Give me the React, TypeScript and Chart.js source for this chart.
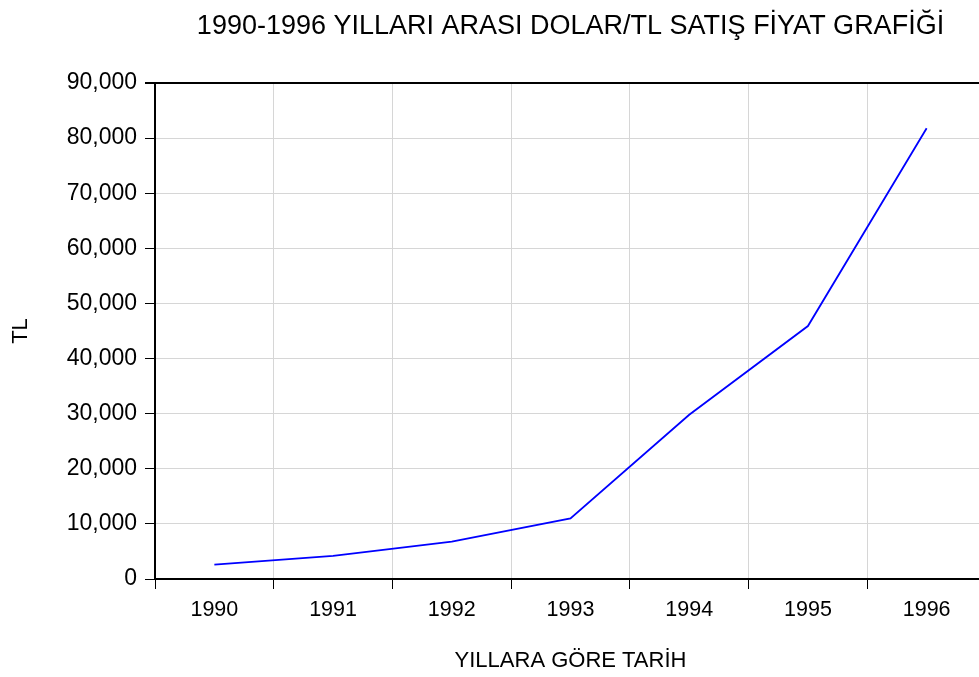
import { useEffect, useRef } from "react";
import { Chart, registerables } from "chart.js";

Chart.register(...registerables);

const years = ["1990", "1991", "1992", "1993", "1994", "1995", "1996"];
const rates = [2600, 4200, 6800, 11000, 29800, 45900, 81800];
const yTicks = [0, 10000, 20000, 30000, 40000, 50000, 60000, 70000, 80000, 90000];

const chartTitle = "1990-1996 YILLARI ARASI DOLAR/TL SATIŞ FİYAT GRAFİĞİ";
const xTitle = "YILLARA GÖRE TARİH";
const yTitle = "TL";

const FONT = "'Liberation Sans', Arial, sans-serif";

export default function App() {
  const ref = useRef<HTMLCanvasElement>(null);

  useEffect(() => {
    document.body.style.margin = "0";
    const yMax = yTicks[yTicks.length - 1];
    const chart = new Chart(ref.current!, {
      type: "line",
      data: {
        labels: years,
        datasets: [
          {
            data: rates,
            borderColor: "#0000ff",
            borderWidth: 1.8,
            pointRadius: 0,
            tension: 0,
            fill: false,
          },
        ],
      },
      options: {
        responsive: false,
        animation: false,
        devicePixelRatio: 1,
        layout: { padding: { left: 0, right: 9, top: 0, bottom: 0 } },
        plugins: {
          legend: { display: false },
          tooltip: { enabled: false },
          title: {
            display: true,
            text: chartTitle,
            fullSize: false,
            color: "#000",
            font: { family: FONT, size: 27, weight: "normal" },
            padding: { top: 10, bottom: 40.6 },
          },
        },
        scales: {
          x: {
            offset: true,
            grid: {
              offset: true,
              color: "#d6d6d6",
              tickColor: "#000",
              tickLength: 10,
              lineWidth: 1,
            },
            border: { color: "#000", width: 2 },
            ticks: {
              color: "#000",
              font: { family: FONT, size: 21.5 },
              padding: 8,
              maxRotation: 0,
              autoSkip: false,
            },
            title: {
              display: true,
              text: xTitle,
              color: "#000",
              font: { family: FONT, size: 22 },
              padding: { top: 0, bottom: 3 },
            },
            afterFit: (s: any) => {
              s.height = 98;
            },
          },
          y: {
            min: 0,
            max: yMax,
            afterBuildTicks: (s: any) => {
              s.ticks = yTicks.map((v) => ({ value: v }));
            },
            grid: {
              color: (ctx: any) => (ctx.tick && ctx.tick.value === yMax ? "#000" : "#d6d6d6"),
              lineWidth: (ctx: any) => (ctx.tick && ctx.tick.value === yMax ? 2 : 1),
              tickColor: "#000",
              tickLength: 10,
            },
            border: { color: "#000", width: 2 },
            ticks: {
              color: "#000",
              font: { family: FONT, size: 23 },
              padding: 8,
              callback: (v: any) => Number(v).toLocaleString("en-US"),
            },
            title: {
              display: true,
              text: yTitle,
              color: "#000",
              font: { family: FONT, size: 22 },
              padding: { top: 8, bottom: 0 },
            },
            afterFit: (s: any) => {
              s.width = 155;
            },
          },
        },
      },
    });
    return () => chart.destroy();
  }, []);

  return (
    <div style={{ width: 979, height: 677, overflow: "hidden" }}>
      <canvas ref={ref} width={995} height={677} style={{ display: "block" }} />
    </div>
  );
}
